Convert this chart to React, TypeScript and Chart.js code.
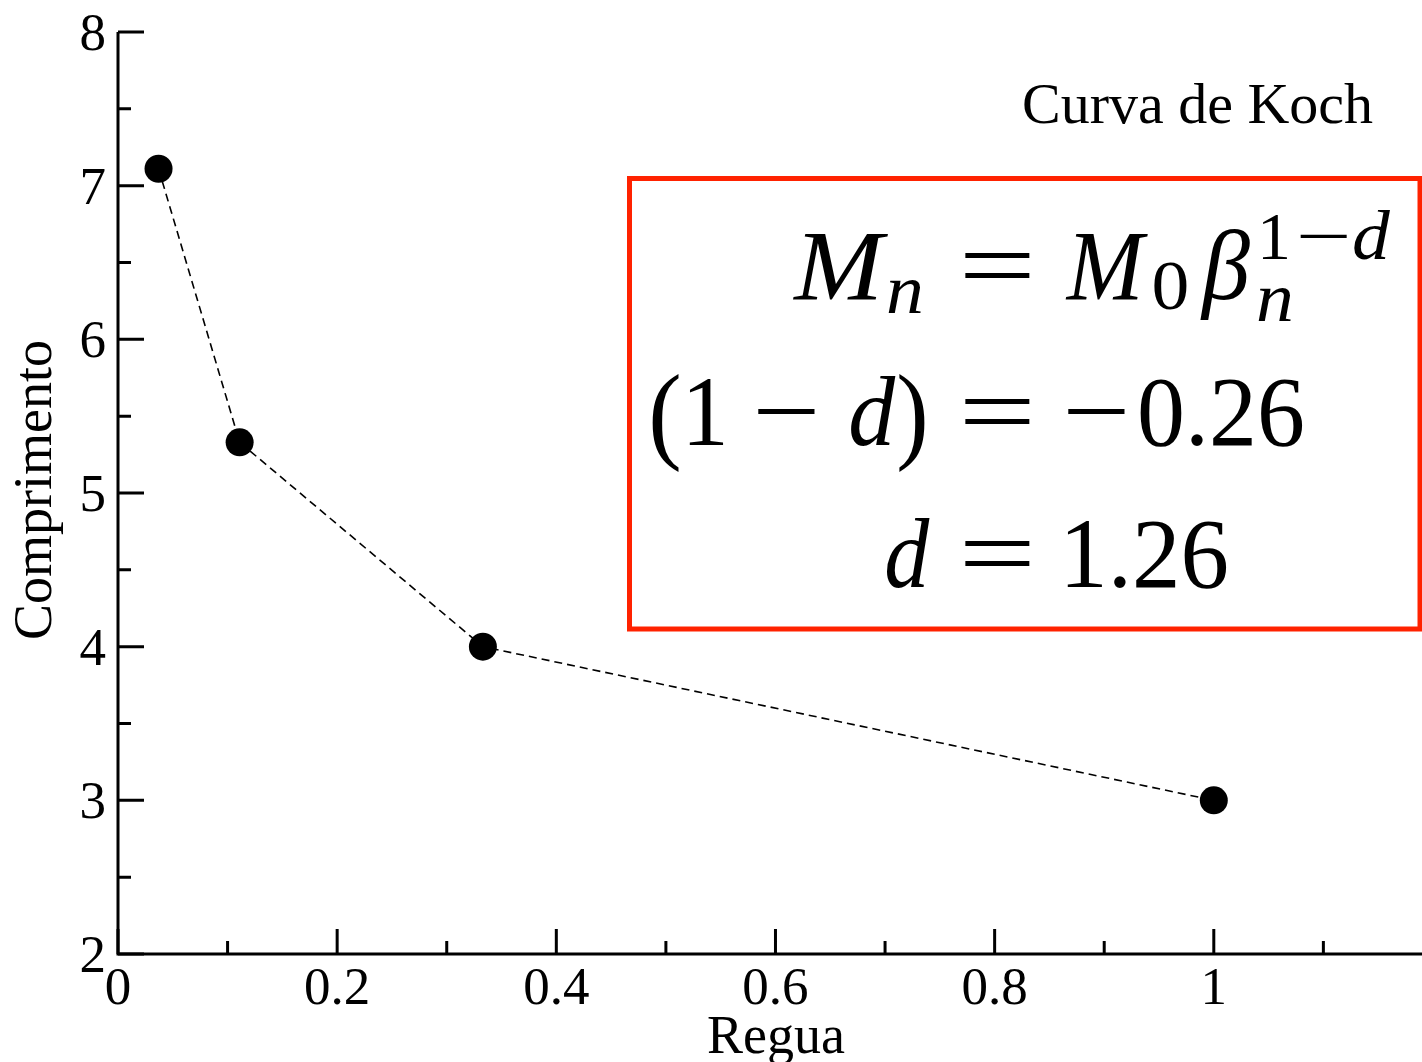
import React, { useEffect, useRef } from "react";
import { Chart, registerables } from "chart.js";

Chart.register(...registerables);

// ---- data ----
const reguaValues = [0.037, 0.111, 0.333, 1.0];
const comprimentoValues = [7.11, 5.33, 4.0, 3.0];
const xTickValues = [0, 0.2, 0.4, 0.6, 0.8, 1.0];
const xTickLabels = ["0", "0.2", "0.4", "0.6", "0.8", "1"];
const xMinorValues = [0.1, 0.3, 0.5, 0.7, 0.9, 1.1];
const yTickValues = [2, 3, 4, 5, 6, 7, 8];
const yTickLabels = ["2", "3", "4", "5", "6", "7", "8"];
const yMinorValues = [2.5, 3.5, 4.5, 5.5, 6.5, 7.5];
const xTitle = "Regua";
const yTitle = "Comprimento";
const chartLabel = "Curva de Koch";

const SERIF = "'Liberation Serif', 'Times New Roman', serif";

type Piece = { t: string; x0: number; x1: number; y: number; size: number; it?: boolean; free?: boolean };

// formula pieces (text layout)
const formulaPieces: Piece[] = [
  // line 1: M_n = M_0 beta_n^{1-d}
  { t: "M", x0: 792, x1: 888, y: 299, size: 100, it: true },
  { t: "n", x0: 885, x1: 925, y: 313, size: 70, it: true },
  { t: "=", x0: 964, x1: 1030, y: 299, size: 100, free: true },
  { t: "M", x0: 1065, x1: 1148, y: 299, size: 100, it: true },
  { t: "0", x0: 1153, x1: 1188, y: 309, size: 70 },
  { t: "β", x0: 1200, x1: 1250, y: 299, size: 100, it: true },
  { t: "n", x0: 1253, x1: 1297, y: 321, size: 70, it: true },
  { t: "1", x0: 1262, x1: 1287, y: 259, size: 68 },
  { t: "\u2212", x0: 1300, x1: 1348, y: 259, size: 68, free: true },
  { t: "d", x0: 1353, x1: 1392, y: 259, size: 70, it: true },
  // line 2: (1 - d) = -0.26
  { t: "(", x0: 652, x1: 679, y: 449, size: 108 },
  { t: "1", x0: 689, x1: 723, y: 445, size: 100 },
  { t: "\u2212", x0: 757, x1: 815, y: 445, size: 100, free: true },
  { t: "d", x0: 851, x1: 896, y: 445, size: 100, it: true },
  { t: ")", x0: 899, x1: 925, y: 449, size: 108 },
  { t: "=", x0: 964, x1: 1030, y: 445, size: 100, free: true },
  { t: "\u2212", x0: 1067, x1: 1125, y: 445, size: 100, free: true },
  { t: "0.26", x0: 1140, x1: 1303, y: 445, size: 100 },
  // line 3: d = 1.26
  { t: "d", x0: 887, x1: 930, y: 587, size: 100, it: true },
  { t: "=", x0: 964, x1: 1030, y: 587, size: 100, free: true },
  { t: "1.26", x0: 1067, x1: 1227, y: 587, size: 100 },
];

function drawFit(ctx: CanvasRenderingContext2D, p: Piece) {
  ctx.save();
  ctx.font = `${p.it ? "italic " : ""}${p.size}px ${SERIF}`;
  ctx.textAlign = "left";
  ctx.textBaseline = "alphabetic";
  const m = ctx.measureText(p.t);
  const left = m.actualBoundingBoxLeft;
  const inkW = m.actualBoundingBoxLeft + m.actualBoundingBoxRight;
  const target = p.x1 - p.x0;
  let s = inkW > 0 ? target / inkW : 1;
  if (!p.free) s = Math.max(0.9, Math.min(1.08, s));
  const offset = (target - inkW * s) / 2;
  ctx.translate(p.x0 + offset, p.y);
  ctx.scale(s, 1);
  ctx.fillStyle = "#000";
  ctx.fillText(p.t, left, 0);
  ctx.restore();
}

const decorPlugin = {
  id: "decor",
  afterDraw(chart: any) {
    const ctx: CanvasRenderingContext2D = chart.ctx;
    const xs = chart.scales.x;
    const ys = chart.scales.y;
    const left = xs.getPixelForValue(0);
    const bottom = ys.getPixelForValue(2);
    const top = ys.getPixelForValue(8);
    const right = chart.width;
    ctx.save();
    ctx.strokeStyle = "#000";
    ctx.lineWidth = 3;
    ctx.lineCap = "butt";
    // axes
    ctx.beginPath();
    ctx.moveTo(left, top);
    ctx.lineTo(left, bottom);
    ctx.lineTo(right, bottom);
    ctx.stroke();
    // x ticks
    ctx.beginPath();
    xTickValues.forEach((v) => {
      const px = xs.getPixelForValue(v);
      ctx.moveTo(px, bottom);
      ctx.lineTo(px, bottom - 25);
    });
    xMinorValues.forEach((v) => {
      const px = xs.getPixelForValue(v);
      ctx.moveTo(px, bottom);
      ctx.lineTo(px, bottom - 13);
    });
    // y ticks
    yTickValues.forEach((v) => {
      const py = ys.getPixelForValue(v);
      ctx.moveTo(left, py);
      ctx.lineTo(left + 26, py);
    });
    yMinorValues.forEach((v) => {
      const py = ys.getPixelForValue(v);
      ctx.moveTo(left, py);
      ctx.lineTo(left + 13, py);
    });
    ctx.stroke();

    // tick labels
    ctx.fillStyle = "#000";
    ctx.font = `53px ${SERIF}`;
    ctx.textBaseline = "alphabetic";
    ctx.textAlign = "center";
    xTickValues.forEach((v, i) => {
      ctx.fillText(xTickLabels[i], xs.getPixelForValue(v), 1004);
    });
    ctx.textAlign = "right";
    yTickValues.forEach((v, i) => {
      ctx.fillText(yTickLabels[i], 106, ys.getPixelForValue(v) + 18);
    });

    // axis titles
    ctx.font = `54px ${SERIF}`;
    ctx.textAlign = "center";
    ctx.fillText(xTitle, 776, 1053);
    ctx.save();
    ctx.translate(51, 490);
    ctx.rotate(-Math.PI / 2);
    ctx.fillText(yTitle, 0, 0);
    ctx.restore();

    // chart label
    ctx.font = `58px ${SERIF}`;
    ctx.textAlign = "left";
    ctx.fillText(chartLabel, 1022, 123);

    // red box
    ctx.strokeStyle = "#ff2200";
    ctx.lineWidth = 5;
    ctx.strokeRect(629.5, 178.5, 1420 - 629.5, 629 - 178.5);

    formulaPieces.forEach((p) => drawFit(ctx, p));
    ctx.restore();
  },
};

export default function App() {
  const ref = useRef<HTMLCanvasElement | null>(null);
  useEffect(() => {
    if (!ref.current) return;
    const chart = new Chart(ref.current, {
      type: "scatter",
      data: {
        datasets: [
          {
            data: reguaValues.map((x, i) => ({ x, y: comprimentoValues[i] })),
            showLine: true,
            borderColor: "#000",
            borderWidth: 1.6,
            borderDash: [8, 5],
            backgroundColor: "#000",
            pointBackgroundColor: "#000",
            pointBorderColor: "#000",
            pointRadius: 14,
            pointBorderWidth: 0,
            clip: false as any,
          },
        ],
      },
      options: {
        animation: false,
        responsive: false,
        devicePixelRatio: 1,
        layout: { autoPadding: false, padding: { left: 118, top: 32, right: 0, bottom: 108 } },
        plugins: { legend: { display: false }, tooltip: { enabled: false } },
        scales: {
          x: { type: "linear", min: 0, max: 1.19, display: false },
          y: { type: "linear", min: 2, max: 8, display: false },
        },
      },
      plugins: [decorPlugin],
    });
    return () => chart.destroy();
  }, []);
  return (
    <div style={{ position: "absolute", left: 0, top: 0, width: 1422, height: 1062, background: "#fff" }}>
      <canvas ref={ref} width={1422} height={1062} style={{ display: "block" }} />
    </div>
  );
}
